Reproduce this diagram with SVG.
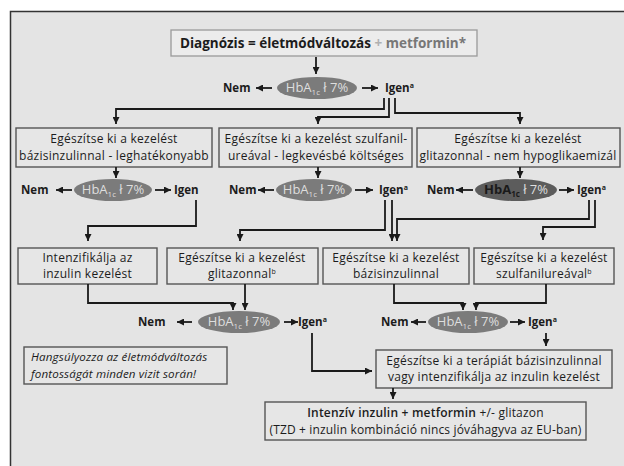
<svg xmlns="http://www.w3.org/2000/svg" width="624" height="466" viewBox="0 0 624 466">
<defs>
<marker id="ah" viewBox="0 0 10 10" refX="10" refY="5" markerWidth="7" markerHeight="7" markerUnits="userSpaceOnUse" orient="auto"><path d="M0,0 L10,5 L0,10 z" fill="#1a1a1a"/></marker>
<style>
.bx{fill:#e6e6e6;stroke:#555;stroke-width:1.4}
.t{font-family:"Open Sans","Liberation Sans",sans-serif;font-size:12px;letter-spacing:0.25px;fill:#1c1c1c;text-anchor:middle}
.lb{font-family:"Open Sans","Liberation Sans",sans-serif;font-size:11.5px;font-weight:bold;fill:#1c1c1c}
.el{fill:#7b7b7b}
.et{font-family:"Open Sans","Liberation Sans",sans-serif;font-size:13px;fill:#dedede;text-anchor:middle}
.cn{fill:none;stroke:#1a1a1a;stroke-width:1.8}
.sm{fill:none;stroke:#1a1a1a;stroke-width:1.8}
.it{font-family:"Open Sans","Liberation Sans",sans-serif;font-size:11.6px;letter-spacing:0.15px;font-style:italic;fill:#1c1c1c}
</style>
</defs>
<rect x="0" y="0" width="624" height="466" fill="#ffffff"/>
<rect x="11" y="11" width="613" height="455" fill="#e4e4e4"/>
<path d="M10.5,466 V11.5 H624" fill="none" stroke="#333" stroke-width="1.5"/>

<g id="start">
<rect x="171" y="30" width="306" height="26" fill="#ececec" stroke="#9a9a9a" stroke-width="1.3"/>
<text x="323" y="48" font-family="Open Sans, Liberation Sans, sans-serif" font-size="13.5" font-weight="bold" text-anchor="middle" fill="#1c1c1c">Diagnózis = életmódváltozás <tspan fill="#b0b0b0">+</tspan> <tspan fill="#777">metformin*</tspan></text>
</g>

<g id="hba1">
<ellipse class="el" cx="317" cy="88" rx="40" ry="11"/>
<text class="et" x="317" y="92">HbA<tspan font-size="8" dy="3">1c</tspan><tspan dy="-3"> ł 7%</tspan></text>
<text class="lb" x="223" y="92">Nem</text>
<text class="lb" x="385" y="92">Igen<tspan font-size="7" dy="-4">a</tspan></text>
</g>

<g id="boxA"><rect class="bx" x="16" y="128" width="196" height="39"/>
<text class="t" x="114" y="143">Egészítse ki a kezelést</text><text class="t" x="114" y="160">bázisinzulinnal - leghatékonyabb</text></g>
<g id="boxB"><rect class="bx" x="219" y="128" width="193" height="39"/>
<text class="t" x="316" y="143">Egészítse ki a kezelést szulfanil-</text><text class="t" x="316" y="160">ureával - legkevésbé költséges</text></g>
<g id="boxC"><rect class="bx" x="417" y="128" width="203" height="39"/>
<text class="t" x="518" y="143">Egészítse ki a kezelést</text><text class="t" x="518" y="160">glitazonnal - nem hypoglikaemizál</text></g>

<g id="hba2a">
<ellipse class="el" cx="113" cy="190" rx="39" ry="11"/>
<text class="et" x="113" y="194">HbA<tspan font-size="8" dy="3">1c</tspan><tspan dy="-3"> ł 7%</tspan></text>
<text class="lb" x="21" y="194">Nem</text>
<text class="lb" x="174" y="194">Igen</text>
</g>
<g id="hba2b">
<ellipse class="el" cx="314" cy="190" rx="38" ry="11"/>
<text class="et" x="314" y="194">HbA<tspan font-size="8" dy="3">1c</tspan><tspan dy="-3"> ł 7%</tspan></text>
<text class="lb" x="229" y="194">Nem</text>
<text class="lb" x="379" y="194">Igen<tspan font-size="7" dy="-4">a</tspan></text>
</g>
<g id="hba2c">
<ellipse cx="516" cy="190" rx="41" ry="11" fill="#5c5c5c"/>
<text class="et" x="516" y="194"><tspan fill="#1a1a1a" font-weight="bold">HbA<tspan font-size="8" dy="3">1c</tspan></tspan><tspan dy="-3"> ł 7%</tspan></text>
<text class="lb" x="427" y="194">Nem</text>
<text class="lb" x="577" y="194">Igen<tspan font-size="7" dy="-4">a</tspan></text>
</g>

<g id="boxD"><rect class="bx" x="18" y="248" width="139" height="36"/>
<text class="t" x="87.5" y="262">Intenzifikálja az</text><text class="t" x="87.5" y="278">inzulin kezelést</text></g>
<g id="boxE"><rect class="bx" x="167" y="248" width="151" height="36"/>
<text class="t" x="242" y="262">Egészítse ki a kezelést</text><text class="t" x="242" y="278">glitazonnal<tspan font-size="7" dy="-4">b</tspan></text></g>
<g id="boxF"><rect class="bx" x="323" y="248" width="146" height="36"/>
<text class="t" x="396" y="262">Egészítse ki a kezelést</text><text class="t" x="396" y="278">bázisinzulinnal</text></g>
<g id="boxG"><rect class="bx" x="474" y="248" width="140" height="36"/>
<text class="t" x="544" y="262">Egészítse ki a kezelést</text><text class="t" x="544" y="278">szulfanilureával<tspan font-size="7" dy="-4">b</tspan></text></g>

<g id="hba3a">
<ellipse class="el" cx="239" cy="322" rx="41" ry="11"/>
<text class="et" x="239" y="326">HbA<tspan font-size="8" dy="3">1c</tspan><tspan dy="-3"> ł 7%</tspan></text>
<text class="lb" x="138" y="326">Nem</text>
<text class="lb" x="298" y="326">Igen<tspan font-size="7" dy="-4">a</tspan></text>
</g>
<g id="hba3b">
<ellipse class="el" cx="468" cy="322" rx="40" ry="11"/>
<text class="et" x="468" y="326">HbA<tspan font-size="8" dy="3">1c</tspan><tspan dy="-3"> ł 7%</tspan></text>
<text class="lb" x="381" y="326">Nem</text>
<text class="lb" x="528" y="326">Igen<tspan font-size="7" dy="-4">a</tspan></text>
</g>

<g id="boxH"><rect class="bx" x="24" y="347" width="203" height="37"/>
<text class="it" x="31" y="361">Hangsúlyozza az életmódváltozás</text>
<text class="it" x="31" y="377.5">fontosságát minden vizit során!</text></g>
<g id="boxI"><rect class="bx" x="376" y="350" width="236" height="38"/>
<text class="t" x="494" y="365">Egészítse ki a terápiát bázisinzulinnal</text><text class="t" x="494" y="381">vagy intenzifikálja az inzulin kezelést</text></g>
<g id="boxJ"><rect class="bx" x="265" y="402" width="321" height="38"/>
<text class="t" x="425.5" y="417" style="letter-spacing:0.2px"><tspan font-weight="600">Intenzív inzulin + metformin</tspan> +/- glitazon</text><text class="t" x="425.5" y="434" style="letter-spacing:0.15px">(TZD + inzulin kombináció nincs jóváhagyva az EU-ban)</text></g>

<g id="connectors">
<path class="cn" d="M316,57 V74" marker-end="url(#ah)"/>
<path class="sm" d="M272,88 H256" marker-end="url(#ah)"/>
<path class="sm" d="M362,88 H378" marker-end="url(#ah)"/>
<path class="cn" d="M384,98 V109 H116 V124" marker-end="url(#ah)"/>
<path class="cn" d="M389,98 V117 H318 V124" marker-end="url(#ah)"/>
<path class="cn" d="M395,98 V113 H520 V124" marker-end="url(#ah)"/>
<path class="cn" d="M116,167 V178" marker-end="url(#ah)"/>
<path class="cn" d="M318,167 V178" marker-end="url(#ah)"/>
<path class="cn" d="M520,167 V178" marker-end="url(#ah)"/>
<path class="sm" d="M72,190 H56" marker-end="url(#ah)"/>
<path class="sm" d="M155,190 H171" marker-end="url(#ah)"/>
<path class="sm" d="M274,190 H258" marker-end="url(#ah)"/>
<path class="sm" d="M355,190 H373" marker-end="url(#ah)"/>
<path class="sm" d="M473,190 H456" marker-end="url(#ah)"/>
<path class="sm" d="M559,190 H574" marker-end="url(#ah)"/>
<path class="cn" d="M196,200 V226 H88 V241" marker-end="url(#ah)"/>
<path class="cn" d="M385,200 V230 H240 V241" marker-end="url(#ah)"/>
<path class="cn" d="M392,200 V241" marker-end="url(#ah)"/>
<path class="cn" d="M589,200 V219 H397 V241" marker-end="url(#ah)"/>
<path class="cn" d="M595,200 V227 H543 V240" marker-end="url(#ah)"/>
<path class="cn" d="M88,284 V303 H233 V310" marker-end="url(#ah)"/>
<path class="cn" d="M245,284 V310" marker-end="url(#ah)"/>
<path class="cn" d="M394,284 V303 H463 V310" marker-end="url(#ah)"/>
<path class="cn" d="M546,284 V303 H476 V310" marker-end="url(#ah)"/>
<path class="sm" d="M192,322 H177" marker-end="url(#ah)"/>
<path class="sm" d="M284,322 H298" marker-end="url(#ah)"/>
<path class="sm" d="M426,322 H411" marker-end="url(#ah)"/>
<path class="sm" d="M510,322 H525" marker-end="url(#ah)"/>
<path class="cn" d="M312,333 V371 H372" marker-end="url(#ah)"/>
<path class="cn" d="M546,333 V346" marker-end="url(#ah)"/>
<path class="cn" d="M393,388 V399" marker-end="url(#ah)"/>
</g>
</svg>
